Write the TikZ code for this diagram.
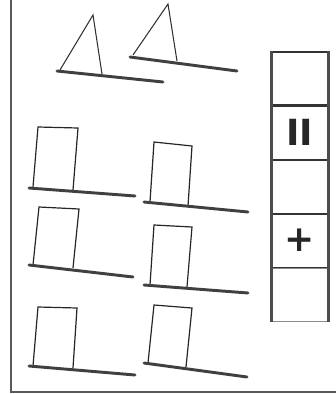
\documentclass[tikz,border=0pt]{standalone}
\usepackage{fontspec}
\newfontfamily\cellfont{DejaVu Sans}
\usepackage{tikz}
\usetikzlibrary{positioning}
\tikzset{
  framerule/.style={line width=1.4pt, draw=black!65},
  leverbar/.style={line width=2.2pt, draw=black!75, line cap=round},
  sailline/.style={line width=0.8pt, draw=black!80},
  doorline/.style={line width=0.9pt, draw=black!85},
  colrule/.style={line width=1.6pt, draw=black!70},
  cellbox/.style={rectangle, draw=black!80, line width=0.8pt, inner sep=0pt,
    minimum width=42pt, minimum height=39.75pt, text=black!85,
    font=\cellfont\bfseries\fontsize{27}{27}\selectfont}
}
\begin{document}
\begin{tikzpicture}[x=0.75pt, y=-0.75pt]
  \useasboundingbox (0,0) rectangle (336,394);

  % frame
  \draw[framerule] (11,0) -- (11,392) -- (336,392);

  % two triangles on their bars
  \draw[sailline] (60,70) -- (93,15) -- (102,74);
  \draw[leverbar] (57,71) -- (163,82);
  \draw[sailline] (133,55) -- (168,4) -- (177,61);
  \draw[leverbar] (130,57) -- (237,71);

  % six frames on their bars
  \draw[doorline] (33,187) -- (38,127) -- (78,128) -- (73,190);
  \draw[leverbar] (29,188) -- (135,196);
  \draw[doorline] (150,202) -- (154,142) -- (192,146) -- (188,206);
  \draw[leverbar] (144,202) -- (248,212);

  \draw[doorline] (33,265) -- (39,207) -- (79,209) -- (73,268);
  \draw[leverbar] (29,265) -- (133,277);
  \draw[doorline] (150,285) -- (154,225) -- (192,227) -- (187,287);
  \draw[leverbar] (144,285) -- (248,293);

  \draw[doorline] (33,366) -- (38,307) -- (77,308) -- (73,368);
  \draw[leverbar] (29,366) -- (135,375);
  \draw[doorline] (148,363) -- (154,305) -- (192,308) -- (186,367);
  \draw[leverbar] (144,363) -- (247,377);

  % column of cells
  \node[cellbox] (c1) at (300,78.5) {};
  \node[cellbox, below=0pt of c1] (c2) {II};
  \node[cellbox, below=0pt of c2] (c3) {};
  \node[cellbox, below=0pt of c3] (c4) {+};
  \node[cellbox, below=0pt of c4, draw=black!45] (c5) {};
  \draw[colrule] (c1.north west) -- (c5.south west);
  \draw[colrule] (c1.north east) -- (c5.south east);
\end{tikzpicture}
\end{document}
